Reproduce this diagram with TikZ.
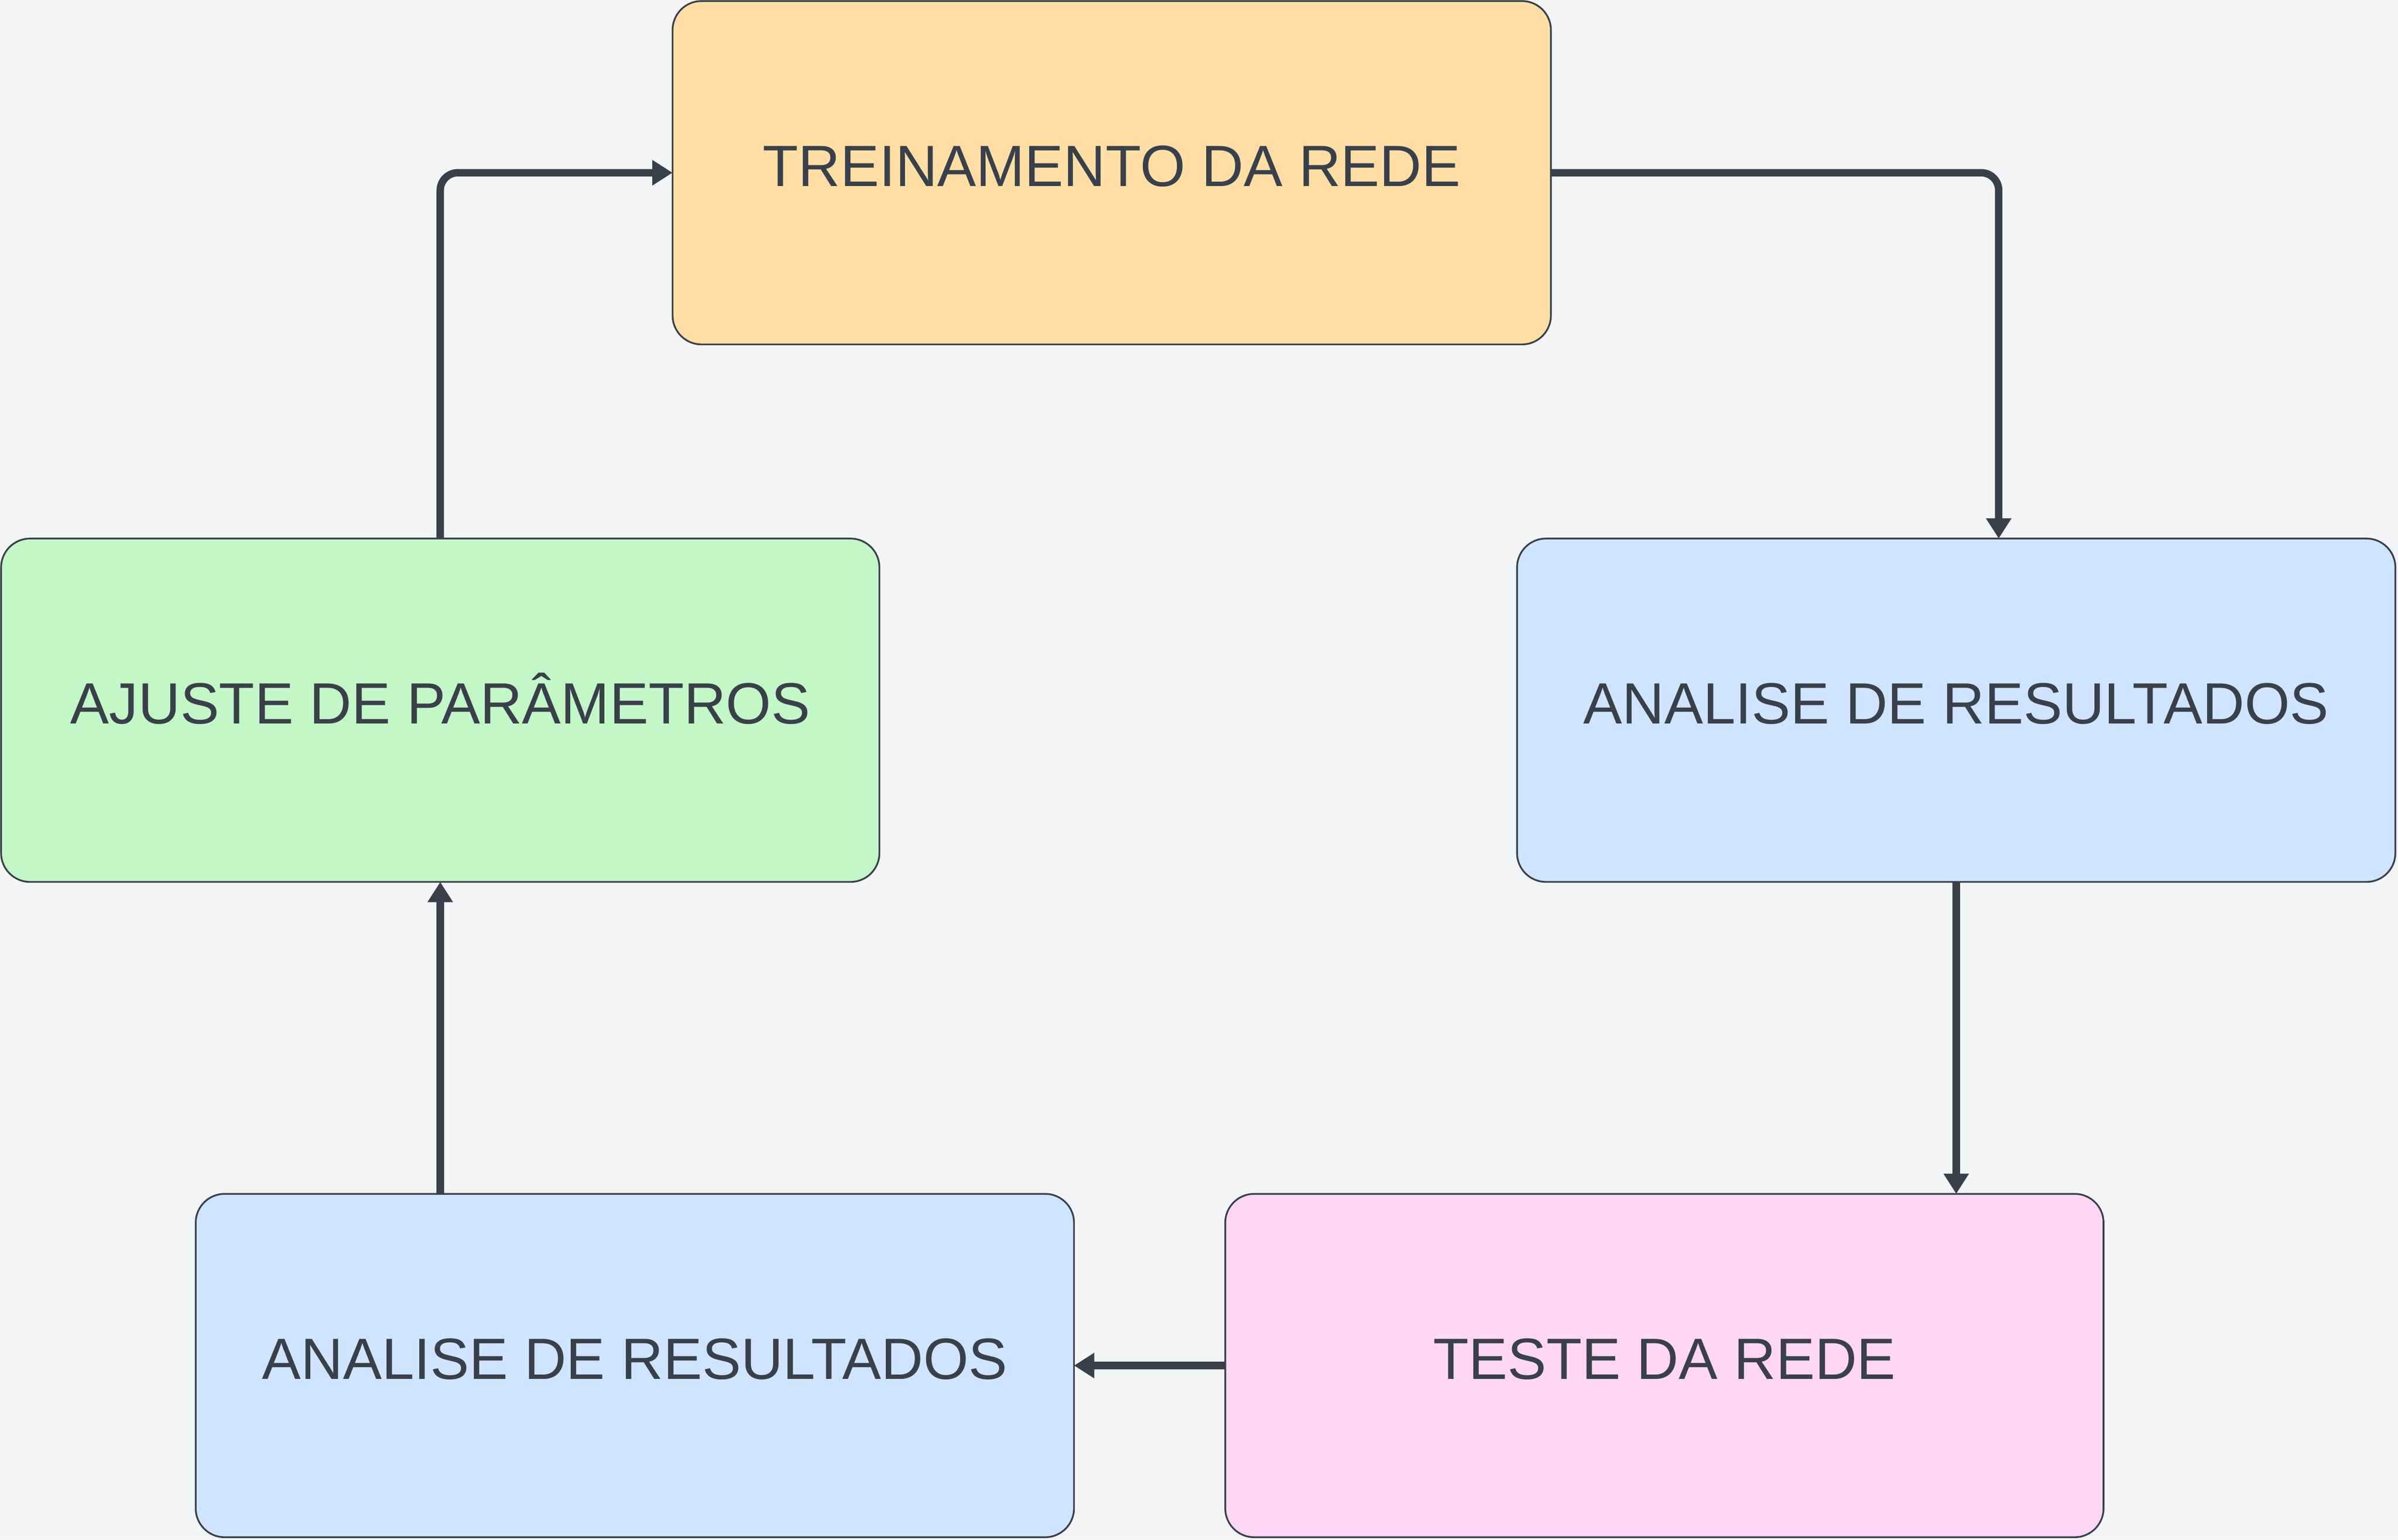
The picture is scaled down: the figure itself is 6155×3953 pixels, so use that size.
\documentclass[tikz,border=0pt]{standalone}
\usepackage{fontspec}
\setmainfont{Liberation Sans}
\usetikzlibrary{arrows.meta}
\definecolor{bg}{HTML}{F3F4F6}
\definecolor{ink}{HTML}{3A404A}
\definecolor{fOrange}{HTML}{FFDEA6}
\definecolor{fGreen}{HTML}{C3F7C7}
\definecolor{fBlue}{HTML}{CFE4FF}
\definecolor{fPink}{HTML}{FFD6F6}
\tikzset{
  box/.style={draw=ink, line width=0.045cm, rounded corners=0.74cm,
    minimum width=22.53cm, minimum height=8.81cm, inner sep=0pt, outer sep=0pt},
  lbl/.style={anchor=base, text=ink, inner sep=0pt,
    font=\fontsize{42.5pt}{51pt}\selectfont},
  conn/.style={draw=ink, line width=0.19cm, rounded corners=0.45cm,
    -{Triangle[length=0.52cm, width=0.62cm]}},
}
\begin{document}
\begin{tikzpicture}[x=0.01cm, y=-0.01cm]
\fill[bg] (0,0) rectangle (6155,3953);
\useasboundingbox (0,0) rectangle (6155,3953);
\node[box, fill=fOrange] (T)  at (2853.5, 443.5) {};
\node[box, fill=fGreen]  (AJ) at (1130, 1823.5) {};
\node[box, fill=fBlue]   (AR) at (5021, 1823.5) {};
\node[box, fill=fBlue]   (AB) at (1629.5, 3506) {};
\node[box, fill=fPink]   (TE) at (4272, 3506) {};
\node[lbl] (tT)  at ([yshift=-0.35cm]T.center)  {TREINAMENTO DA REDE};
\node[lbl] (tAJ) at ([yshift=-0.35cm]AJ.center) {AJUSTE DE PARÂMETROS};
\node[lbl] (tAR) at ([yshift=-0.35cm]AR.center) {ANALISE DE RESULTADOS};
\node[lbl] (tAB) at ([yshift=-0.35cm]AB.center) {ANALISE DE RESULTADOS};
\node[lbl] (tTE) at ([yshift=-0.35cm]TE.center) {TESTE DA REDE};
\draw[conn] (T.east) -| ([xshift=1.09cm]AR.north);
\draw[conn] (AR.south) -- (AR.south |- TE.north);
\draw[conn] (TE.west) -- (AB.east);
\draw[conn] (AJ.south |- AB.north) -- (AJ.south);
\draw[conn] (AJ.north) |- (T.west);
\end{tikzpicture}
\end{document}
